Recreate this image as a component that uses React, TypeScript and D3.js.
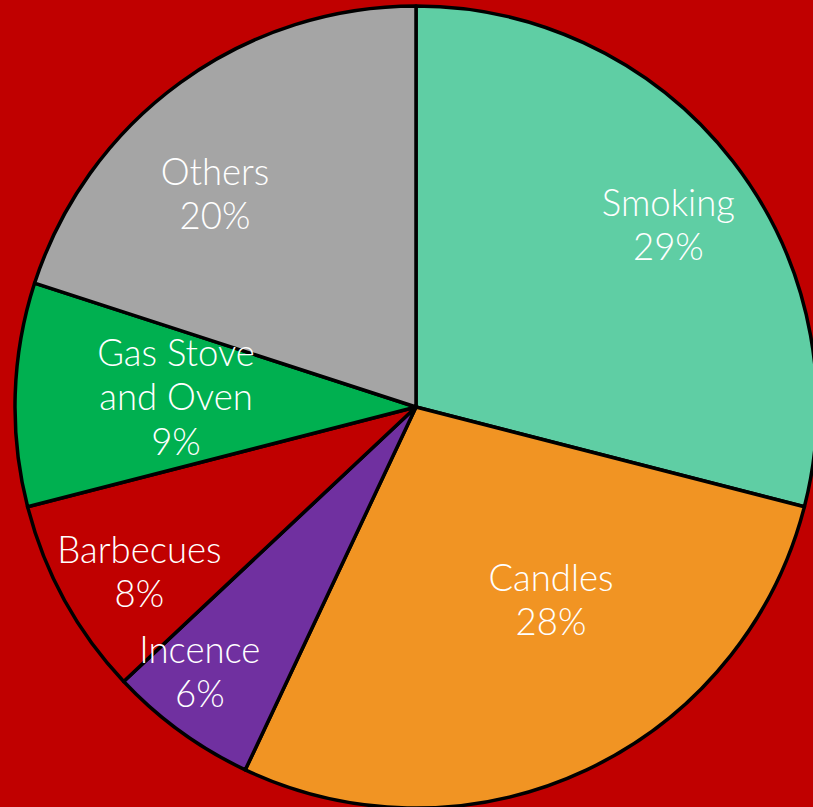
import React from "react";
import * as d3 from "d3";

const categories = ["Smoking", "Candles", "Incence", "Barbecues", "Gas Stove\nand Oven", "Others"];
const values = [29, 28, 6, 8, 9, 20];
const colors = ["#5FCEA4", "#F19423", "#7030A0", "#C00000", "#00B050", "#A5A5A5"];

// label placement (polar, relative to pie center): angle in degrees, distance as fraction of radius
const labelPlacement = [
  { a: 54.2, f: 0.776 },
  { a: 145.0, f: 0.587 },
  { a: 219.2, f: 0.853 },
  { a: 239.2, f: 0.803 },
  { a: 272.4, f: 0.599 },
  { a: 316.7, f: 0.731 },
];

const W = 813;
const H = 807;

export default function App() {
  const cx = 416;
  const cy = 407;
  const r = 401;
  const total = d3.sum(values);
  const pie = d3
    .pie<number>()
    .sort(null)
    .value((d) => d)(values);
  const arc = d3.arc<d3.PieArcDatum<number>>().innerRadius(0).outerRadius(r);
  const fontSize = 36.5;
  const lineH = 44.5;

  return (
    <svg
      width={W}
      height={H}
      style={{ position: "absolute", left: 0, top: 0, display: "block" }}
    >
      <rect x={0} y={0} width={W} height={H} fill="#C00000" />
      <g transform={`translate(${cx},${cy})`}>
        {pie.map((p, i) => (
          <path
            key={i}
            d={arc(p) || ""}
            fill={colors[i]}
            stroke="#000"
            strokeWidth={3.5}
            strokeLinejoin="round"
          />
        ))}
        {pie.map((p, i) => {
          const lp = labelPlacement[i];
          const ang = (lp.a * Math.PI) / 180;
          const x = Math.sin(ang) * r * lp.f;
          const y = -Math.cos(ang) * r * lp.f;
          const pct = Math.round((values[i] / total) * 100) + "%";
          const lines = [...categories[i].split("\n"), pct];
          const y0 = y - ((lines.length - 1) * lineH) / 2 + fontSize * 0.36;
          return (
            <text
              key={"t" + i}
              x={x}
              y={y0}
              textAnchor="middle"
              fill="#fff"
              fontFamily="Lato, 'Open Sans', sans-serif"
              fontWeight={300}
              fontSize={fontSize}
            >
              {lines.map((l, j) => (
                <tspan key={j} x={x} y={y0 + j * lineH}>
                  {l}
                </tspan>
              ))}
            </text>
          );
        })}
      </g>
    </svg>
  );
}
